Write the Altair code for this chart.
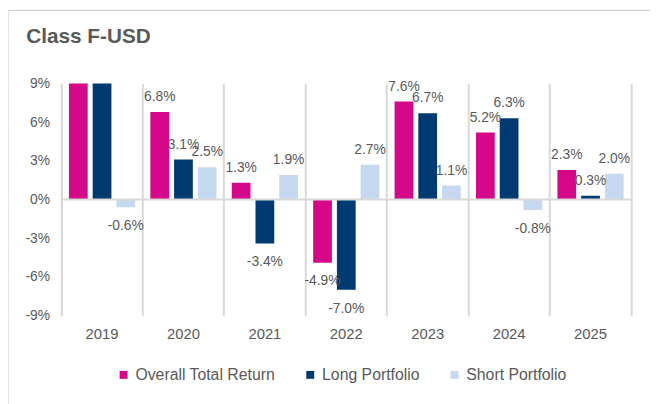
import altair as alt
import pandas as pd

years = ["2019", "2020", "2021", "2022", "2023", "2024", "2025"]
series = ["Overall Total Return", "Long Portfolio", "Short Portfolio"]
# 2019 Overall / Long run off the top of the 9% axis in the reference (clipped)
overall = [9.6, 6.8, 1.3, -4.9, 7.6, 5.2, 2.3]
long_p = [9.6, 3.1, -3.4, -7.0, 6.7, 6.3, 0.3]
short_p = [-0.6, 2.5, 1.9, 2.7, 1.1, -0.8, 2.0]
colors = ["#D5088A", "#003A70", "#C6D9F1"]
y_ticks = [-9, -6, -3, 0, 3, 6, 9]

rows = []
for s, vals in zip(series, [overall, long_p, short_p]):
    for yr, v in zip(years, vals):
        rows.append({"year": yr, "series": s, "value": v, "label": f"{v:.1f}%"})
df = pd.DataFrame(rows)

FONT = "Liberation Sans"
TXT = "#595959"
GRID = "#D9D9D9"

x_enc = alt.X(
    "year:N", sort=years, scale=alt.Scale(paddingInner=0, paddingOuter=0),
    axis=alt.Axis(title=None, domain=False, ticks=False, grid=True, bandPosition=0,
                  gridColor=GRID, gridWidth=2, labelFontSize=15, labelColor=TXT,
                  labelPadding=11, labelAngle=0),
)
xo_enc = alt.XOffset("series:N", sort=series,
                     scale=alt.Scale(paddingInner=0.21, paddingOuter=0.32))
y_scale = alt.Scale(domain=[-9, 9], nice=False, zero=False)
y_enc = alt.Y(
    "value:Q", scale=y_scale,
    axis=alt.Axis(values=y_ticks, labelExpr="datum.value + '%'", title=None, grid=False,
                  ticks=False, domainColor=GRID, domainWidth=2, labelFontSize=14,
                  labelColor=TXT, labelPadding=12),
)

base = alt.Chart(df)

bars = base.mark_bar(clip=True).encode(
    x=x_enc, xOffset=xo_enc, y=y_enc,
    color=alt.Color("series:N", sort=series,
                    scale=alt.Scale(domain=series, range=colors),
                    legend=alt.Legend(title=None, orient="none", direction="horizontal",
                                      legendX=55, legendY=287, symbolType="square",
                                      symbolSize=64, symbolStrokeWidth=0,
                                      labelFontSize=16, labelColor=TXT,
                                      columnPadding=27, labelOffset=4)),
)

pos_labels = base.transform_filter("datum.value >= 0 && datum.value <= 9").mark_text(
    baseline="alphabetic", dy=-11, fontSize=14, color=TXT
).encode(x=x_enc, xOffset=xo_enc, y=alt.Y("value:Q", scale=y_scale, axis=None), text="label:N")

neg_labels = base.transform_filter("datum.value < 0 && datum.value >= -9").mark_text(
    baseline="top", dy=12, fontSize=14, color=TXT
).encode(x=x_enc, xOffset=xo_enc, y=alt.Y("value:Q", scale=y_scale, axis=None), text="label:N")

zero_rule = alt.Chart(pd.DataFrame({"z": [0]})).mark_rule(color=GRID, strokeWidth=2).encode(
    y=alt.Y("z:Q", scale=y_scale,
            axis=alt.Axis(orient="right", labels=False, ticks=False, grid=False, title=None,
                          domainColor=GRID, domainWidth=2))
)

frame_top = alt.Chart(pd.DataFrame({"f": [0]})).mark_rule(color="#C8C8C8", strokeWidth=1).encode(
    x=alt.value(-54), x2=alt.value(640), y=alt.value(-74)
)
frame_left = alt.Chart(pd.DataFrame({"f": [0]})).mark_rule(color="#C8C8C8", strokeWidth=1).encode(
    x=alt.value(-54), y=alt.value(-74), y2=alt.value(340)
)

chart = alt.layer(bars, pos_labels, neg_labels, zero_rule, frame_top, frame_left).resolve_axis(
    y="independent"
).properties(
    width=577, height=235,
    autosize=alt.AutoSizeParams(type="none"),
    padding={"left": 54, "top": 74, "right": 19, "bottom": 87},
    title=alt.Title("Class F-USD", anchor="start", fontSize=21, fontWeight="bold",
                    color=TXT, font=FONT, dx=19, offset=0, dy=54, baseline="alphabetic"),
).configure(font=FONT).configure_view(stroke=None).configure_axis(
    labelFont=FONT
).configure_legend(labelFont=FONT).configure_text(font=FONT)

chart.save("out.html", embed_options={"renderer": "svg", "actions": False})
